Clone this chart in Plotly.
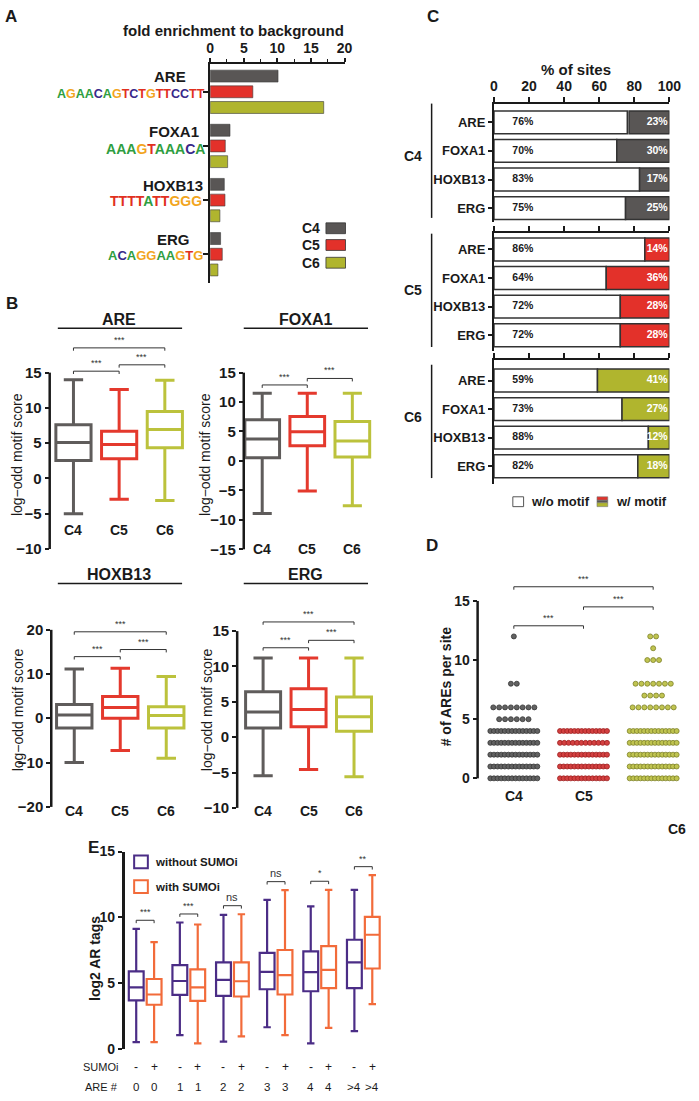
import plotly.graph_objects as go

W, H = 699, 1101
FONT = "Liberation Sans, Arial, Helvetica, sans-serif"
BLACK = "#1a1a1a"

# ---------------- data ----------------
motifs = ["ARE", "FOXA1", "HOXB13", "ERG"]
clusters = ["C4", "C5", "C6"]

# Panel A: fold enrichment to background
fold_C4 = [10.1, 2.95, 2.1, 1.55]
fold_C5 = [6.35, 2.25, 2.2, 1.8]
fold_C6 = [16.9, 2.6, 1.45, 1.15]
logos = ["AGAACAGTCTGTTCCTT", "AAAGTAAACA", "TTTTATTGGG", "ACAGGAAGTG"]

# Panel B: log-odd motif score box stats (C4, C5, C6)
are_lower = [-5.0, -2.94, -3.13]
are_q1 = [2.55, 2.8, 4.35]
are_median = [5.1, 4.81, 6.92]
are_q3 = [7.6, 6.68, 9.49]
are_upper = [14.0, 12.6, 13.9]

foxa1_lower = [-8.9, -5.1, -7.6]
foxa1_q1 = [0.56, 2.56, 0.67]
foxa1_median = [3.72, 4.94, 3.4]
foxa1_q3 = [7.0, 7.56, 6.7]
foxa1_upper = [11.5, 11.5, 11.5]

hoxb13_lower = [-10.0, -7.3, -9.0]
hoxb13_q1 = [-2.2, 0.0, -2.2]
hoxb13_median = [0.74, 2.4, 0.6]
hoxb13_q3 = [3.1, 4.9, 2.6]
hoxb13_upper = [11.1, 11.3, 9.4]

erg_lower = [-5.44, -4.56, -5.58]
erg_q1 = [1.3, 1.49, 0.84]
erg_median = [3.58, 3.9, 2.88]
erg_q3 = [6.42, 6.84, 5.67]
erg_upper = [11.2, 11.2, 11.2]

# Panel C: % of sites without / with motif
wo_C4 = [76, 70, 83, 75]
w_C4 = [23, 30, 17, 25]
wo_C5 = [86, 64, 72, 72]
w_C5 = [14, 36, 28, 28]
wo_C6 = [59, 73, 88, 82]
w_C6 = [41, 27, 12, 18]

# Panel D: number of AREs per site (value -> number of dots drawn)
d_C4_values = [0, 1, 2, 3, 4, 5, 6, 8, 12]
d_C4_counts = [14, 14, 14, 14, 14, 6, 8, 2, 1]
d_C5_values = [0, 1, 2, 3, 4]
d_C5_counts = [14, 14, 14, 12, 14]
d_C6_values = [0, 1, 2, 3, 4, 6, 7, 8, 10, 11, 12]
d_C6_counts = [14, 14, 14, 14, 14, 8, 4, 7, 3, 1, 2]

# Panel E: log2 AR tags by ARE number
are_number = ["0", "1", "2", "3", "4", ">4"]
e_without_lower = [0.5, 1.03, 0.53, 1.63, 0.4, 1.33]
e_without_q1 = [3.67, 4.1, 4.02, 4.52, 4.37, 4.6]
e_without_median = [4.67, 5.15, 5.23, 5.85, 5.83, 6.56]
e_without_q3 = [5.88, 6.35, 6.56, 7.29, 7.41, 8.29]
e_without_upper = [9.12, 9.6, 10.18, 11.33, 10.83, 12.09]
e_with_lower = [0.5, 0.4, 0.93, 1.03, 1.58, 3.39]
e_with_q1 = [3.34, 3.64, 3.97, 4.12, 4.6, 6.1]
e_with_median = [4.12, 4.67, 5.13, 5.6, 6.0, 8.67]
e_with_q3 = [5.3, 6.03, 6.56, 7.51, 7.81, 10.03]
e_with_upper = [8.1, 9.45, 10.23, 12.06, 12.09, 13.2]
e_sig = ["***", "***", "ns", "ns", "*", "**"]

# ---------------- styling ----------------
COL_A = ["#595655", "#e3312a", "#b0b52e"]
COL_B = ["#5f5c5b", "#e4392d", "#bcc23c"]
COL_D_FILL = ["#626262", "#d34040", "#c0c450"]
COL_D_EDGE = ["#363636", "#9e2020", "#7e822a"]
PURPLE = "#4b2d86"
ORANGE = "#f26b3a"
LOGO_COL = {"A": "#2f9e41", "C": "#38288a", "G": "#f2a51d", "T": "#e1301e"}

fig = go.Figure()
ann, shp = [], []
layout = dict(autosize=True, margin=dict(l=0, r=0, t=0, b=0, pad=0),
              paper_bgcolor="white", plot_bgcolor="rgba(0,0,0,0)", showlegend=False,
              barmode="overlay", boxmode="overlay",
              font=dict(family=FONT, color=BLACK))


def dx(a, b):
    return [a / W, b / W]


def dy(top, bottom):
    return [1 - bottom / H, 1 - top / H]


def ptext(x, y, text, size=14, bold=True, xanchor="center", yanchor="middle",
          color=BLACK, angle=0, family=FONT):
    ann.append(dict(xref="paper", yref="paper", x=x / W, y=1 - y / H,
                    text=("<b>%s</b>" % text) if bold else text, showarrow=False,
                    xanchor=xanchor, yanchor=yanchor, textangle=angle,
                    font=dict(size=size, color=color, family=family)))


def xtext(xa, x, y, text, size=14, bold=True):
    ann.append(dict(xref=xa, yref="paper", x=x, y=1 - y / H,
                    text=("<b>%s</b>" % text) if bold else text, showarrow=False,
                    yanchor="middle", font=dict(size=size, color=BLACK, family=FONT)))


def pline(x0, y0, x1, y1, w=2.0, color=BLACK):
    shp.append(dict(type="line", xref="paper", yref="paper", x0=x0 / W, y0=1 - y0 / H,
                    x1=x1 / W, y1=1 - y1 / H, line=dict(color=color, width=w)))


def prect(x0, y0, x1, y1, fill, line="#333", w=1.0):
    shp.append(dict(type="rect", xref="paper", yref="paper", x0=x0 / W, y0=1 - y1 / H,
                    x1=x1 / W, y1=1 - y0 / H, fillcolor=fill, line=dict(color=line, width=w)))


def bracket(xa, ya, x0, x1, y, drop, label, size=9):
    fig.add_trace(go.Scatter(x=[x0, x0, x1, x1], y=[y - drop, y, y, y - drop], mode="lines",
                             line=dict(color="#333", width=1), xaxis=xa, yaxis=ya,
                             hoverinfo="skip"))
    ann.append(dict(xref=xa, yref=ya, x=(x0 + x1) / 2, y=y, text=label, showarrow=False,
                    yanchor="bottom", yshift=1, font=dict(size=size, color="#333", family=FONT)))


def tickfont(size=14):
    return dict(size=size, family=FONT, color=BLACK, weight="bold")


# ================= Panel A =================
ptext(7, 9, "A", size=17)
ptext(235, 23, "fold enrichment to background", size=15)
offsets_A = [-0.40, -0.11, 0.18]
for k, vals in enumerate([fold_C4, fold_C5, fold_C6]):
    fig.add_trace(go.Bar(orientation="h", y=list(range(len(motifs))), x=vals,
                         offset=offsets_A[k], width=0.22,
                         marker=dict(color=COL_A[k], line=dict(color="#3a3a3a", width=0.6)),
                         xaxis="x", yaxis="y", hoverinfo="skip"))
layout["xaxis"] = dict(domain=dx(210.7, 348), range=[0, 20], anchor="y", side="top",
                       showline=True, linewidth=2, linecolor=BLACK, showgrid=False,
                       zeroline=False, ticks="outside", ticklen=4, tickwidth=1.5,
                       tickcolor=BLACK, tickvals=[0, 5, 10, 15, 20], tickfont=tickfont(14),
                       minor=dict(ticks="outside", ticklen=3, tickwidth=1, tickcolor=BLACK,
                                  tickvals=[2.5, 7.5, 12.5, 17.5]))
layout["yaxis"] = dict(domain=dy(57, 279), range=[3.53, -0.51], anchor="x", showline=True,
                       linewidth=2, linecolor=BLACK, showgrid=False, zeroline=False,
                       ticks="outside", ticklen=5, tickwidth=1.5, tickcolor=BLACK,
                       tickvals=list(range(len(motifs))), showticklabels=False)
name_pos = [(170, 70), (174, 125), (173, 180), (173, 235)]
logo_pos = [(130, 87, 12.5), (155, 143, 14), (155, 196, 14), (155, 251, 13)]
for i, m in enumerate(motifs):
    ptext(name_pos[i][0], name_pos[i][1], m, size=15)
    html = "".join('<span style="color:%s">%s</span>' % (LOGO_COL[c], c) for c in logos[i])
    lx, ly, ls = logo_pos[i]
    ptext(lx, ly, html, size=ls, bold=True)
for k, yc in enumerate([223.5, 240.5, 258.5]):
    ptext(314, yc, clusters[k], size=14)
    prect(329, yc - 5.5, 349, yc + 5.5, COL_A[k], line="#333", w=0.8)

# ================= Panel B =================
ptext(8, 300, "B", size=17)
B_panels = [
    ("ARE", (are_lower, are_q1, are_median, are_q3, are_upper), 2,
     dict(x=(46.7, 187.7), xr=[-0.52, 2.5], y=(327, 549), yr=[-10, 21],
          ticks=[-10, -5, 0, 5, 10, 15], axis=(370, 549), lab_y=530,
          title=(118, 316, 325, 55, 182), ytitle=(14, 453)),
     [(0, 1, 15.2), (1, 2, 16.1), (0, 2, 18.5)], 0.4),
    ("FOXA1", (foxa1_lower, foxa1_q1, foxa1_median, foxa1_q3, foxa1_upper), 3,
     dict(x=(245, 379), xr=[-0.41, 2.5], y=(355, 549.3), yr=[-15, 17.5],
          ticks=[-15, -10, -5, 0, 5, 10, 15], axis=(370, 549.3), lab_y=549,
          title=(308, 316, 325, 245, 372), ytitle=(206, 453)),
     [(0, 1, 12.9), (1, 2, 14.0)], 0.5),
    ("HOXB13", (hoxb13_lower, hoxb13_q1, hoxb13_median, hoxb13_q3, hoxb13_upper), 4,
     dict(x=(48.3, 189.3), xr=[-0.5, 2.5], y=(619.5, 810.7), yr=[-20, 22.5],
          ticks=[-20, -10, 0, 10, 20], axis=(631, 810.7), lab_y=815,
          title=(118, 575, 584, 55, 182), ytitle=(14, 712)),
     [(0, 1, 13.9), (1, 2, 15.5), (0, 2, 19.5)], 0.65),
    ("ERG", (erg_lower, erg_q1, erg_median, erg_q3, erg_upper), 5,
     dict(x=(238.3, 380), xr=[-0.57, 2.48], y=(610.8, 811.7), yr=[-10, 18],
          ticks=[-10, -5, 0, 5, 10, 15], axis=(632.3, 811.7), lab_y=815,
          title=(308, 575, 584, 245, 372), ytitle=(207, 712)),
     [(0, 1, 12.65), (1, 2, 13.7), (0, 2, 16.3)], 0.4),
]
for name, stats, n, g, brs, drop in B_panels:
    xa, ya = "x%d" % n, "y%d" % n
    lo, q1, med, q3, up = stats
    for k in range(3):
        fig.add_trace(go.Box(x=[k], lowerfence=[lo[k]], q1=[q1[k]], median=[med[k]],
                             q3=[q3[k]], upperfence=[up[k]], width=0.77, whiskerwidth=0.55,
                             line=dict(color=COL_B[k], width=3), fillcolor="white",
                             boxpoints=False, xaxis=xa, yaxis=ya, hoverinfo="skip"))
        xtext(xa, k, g["lab_y"], clusters[k], size=14)
    for (a, b, yv) in brs:
        bracket(xa, ya, a, b, yv, drop, "***")
    layout["xaxis%d" % n] = dict(domain=dx(*g["x"]), range=g["xr"], anchor=ya, visible=False)
    layout["yaxis%d" % n] = dict(domain=dy(*g["y"]), range=g["yr"], anchor=xa, showline=False,
                                 showgrid=False, zeroline=False, ticks="outside", ticklen=4,
                                 tickwidth=2, tickcolor=BLACK, tickvals=g["ticks"],
                                 tickfont=tickfont(15))
    pline(g["x"][0], g["axis"][0], g["x"][0], g["axis"][1], w=2.5)
    tx, ty, ly, l0, l1 = g["title"]
    ptext(tx, ty, name, size=16)
    pline(l0, ly, l1, ly, w=1.5)
    ptext(g["ytitle"][0], g["ytitle"][1], "log\u2212odd motif score", size=14, bold=False,
          angle=-90)

# ================= Panel C =================
ptext(438, 9, "C", size=17)
ptext(585, 62, "% of sites", size=15)
C_sets = [(wo_C4, w_C4, 6, (97, 217), [3.48, -0.655], (150, 97, 213)),
          (wo_C5, w_C5, 7, (228, 348), [3.55, -0.586], (286, 229, 344)),
          (wo_C6, w_C6, 8, (357, 483), [3.62, -0.724], (415, 362, 477))]
for k, (wo, w, n, ydom, yr, grp) in enumerate(C_sets):
    xa, ya = "x%d" % n, "y%d" % n
    ys = list(range(len(motifs)))
    fig.add_trace(go.Bar(orientation="h", y=ys, x=wo, width=0.8,
                         marker=dict(color="white", line=dict(color="#333", width=1.5)),
                         xaxis=xa, yaxis=ya, hoverinfo="skip"))
    fig.add_trace(go.Bar(orientation="h", y=ys, x=w, base=[100 - v for v in w], width=0.8,
                         marker=dict(color=COL_A[k], line=dict(color="#333", width=1.5)),
                         xaxis=xa, yaxis=ya, hoverinfo="skip"))
    fig.add_trace(go.Scatter(x=[10.5] * len(ys), y=ys, mode="text",
                             text=["<b>%d%%</b>" % v for v in wo], textposition="middle right",
                             textfont=dict(size=10.5, color=BLACK, family=FONT),
                             xaxis=xa, yaxis=ya, hoverinfo="skip", cliponaxis=False))
    fig.add_trace(go.Scatter(x=[99] * len(ys), y=ys, mode="text",
                             text=["<b>%d%%</b>" % v for v in w], textposition="middle left",
                             textfont=dict(size=10.5, color="white", family=FONT),
                             xaxis=xa, yaxis=ya, hoverinfo="skip", cliponaxis=False))
    layout["xaxis%d" % n] = dict(domain=dx(500.7, 680), range=[0, 100], anchor=ya, side="top",
                                 showline=True, linewidth=2, linecolor=BLACK, showgrid=False,
                                 zeroline=False, ticks="outside", ticklen=5, tickwidth=2,
                                 tickcolor=BLACK, tickvals=[0, 20, 40, 60, 80, 100],
                                 showticklabels=(k == 0), tickfont=tickfont(14))
    layout["yaxis%d" % n] = dict(domain=dy(*ydom), range=yr, anchor=xa, showline=True,
                                 linewidth=2, linecolor=BLACK, showgrid=False, zeroline=False,
                                 ticks="outside", ticklen=4, tickwidth=1.5, tickcolor=BLACK,
                                 tickvals=ys, ticktext=motifs, tickfont=tickfont(13))
    ptext(418, grp[0], clusters[k], size=14)
    pline(437, grp[1], 437, grp[2], w=1.5)
# legend C
prect(520, 496, 531, 506, "white", line="#555", w=1)
ptext(537, 501, "w/o motif", size=13, xanchor="left")
prect(606, 496, 617, 499.5, COL_A[1], line="#777", w=0.6)
prect(606, 499.5, 617, 502, COL_A[0], line="#777", w=0.6)
prect(606, 502, 617, 506, COL_A[2], line="#777", w=0.6)
ptext(623, 501, "w/ motif", size=13, xanchor="left")

# ================= Panel D =================
ptext(437, 545, "D", size=17)
D_PX = (699 - 484) / 3.02
for k, (vals, cnts) in enumerate([(d_C4_values, d_C4_counts), (d_C5_values, d_C5_counts),
                                  (d_C6_values, d_C6_counts)]):
    xs, ys = [], []
    for v, c in zip(vals, cnts):
        step = min(6.0, 48.0 / (c - 1)) if c > 1 else 0.0
        for j in range(c):
            xs.append(k + (j - (c - 1) / 2) * step / D_PX)
            ys.append(v)
    fig.add_trace(go.Scatter(x=xs, y=ys, mode="markers", cliponaxis=False,
                             marker=dict(size=5, color=COL_D_FILL[k],
                                         line=dict(color=COL_D_EDGE[k], width=0.8)),
                             xaxis="x9", yaxis="y9", hoverinfo="skip"))
for (a, b, yv) in [(0, 1, 12.9), (1, 2, 14.5), (0, 2, 16.2)]:
    bracket("x9", "y9", a, b, yv, 0.25, "***")
layout["xaxis9"] = dict(domain=dx(484, 699), range=[-0.52, 2.5], anchor="y9", visible=False)
layout["yaxis9"] = dict(domain=dy(571.7, 781.7), range=[0, 17.5], anchor="x9", showline=False,
                        showgrid=False, zeroline=False, ticks="outside", ticklen=4, tickwidth=2,
                        tickcolor=BLACK, tickvals=[0, 5, 10, 15], tickfont=tickfont(14))
pline(484, 601.7, 484, 781.7, w=2.5)
for k in range(2):
    xtext("x9", k, 800, clusters[k], size=14)
ptext(688, 833, clusters[2], size=14)
ptext(452, 688, "# of AREs per site", size=14, angle=-90)

# ================= Panel E =================
ptext(91, 852, "E", size=17)
E_OFF = 0.205
pos_without = [i - E_OFF for i in range(len(are_number))]
pos_with = [i + E_OFF for i in range(len(are_number))]
fig.add_trace(go.Box(x=pos_without, lowerfence=e_without_lower, q1=e_without_q1,
                     median=e_without_median, q3=e_without_q3, upperfence=e_without_upper,
                     width=0.34, whiskerwidth=0.5, line=dict(color=PURPLE, width=2.2),
                     fillcolor="white", boxpoints=False, xaxis="x10", yaxis="y10",
                     hoverinfo="skip"))
fig.add_trace(go.Box(x=pos_with, lowerfence=e_with_lower, q1=e_with_q1,
                     median=e_with_median, q3=e_with_q3, upperfence=e_with_upper,
                     width=0.34, whiskerwidth=0.5, line=dict(color=ORANGE, width=2.2),
                     fillcolor="white", boxpoints=False, xaxis="x10", yaxis="y10",
                     hoverinfo="skip"))
for i, s in enumerate(e_sig):
    top = max(e_without_upper[i], e_with_upper[i])
    bracket("x10", "y10", pos_without[i], pos_with[i], top + 0.65,
            0.22, s, size=9 if "*" in s else 11)
layout["xaxis10"] = dict(domain=dx(123.3, 389.5), range=[-0.47, 5.5], anchor="y10",
                         visible=False)
layout["yaxis10"] = dict(domain=dy(856, 1056), range=[0, 15], anchor="x10", showline=True,
                         linewidth=2.5, linecolor=BLACK, showgrid=False, zeroline=False,
                         ticks="outside", ticklen=4, tickwidth=2, tickcolor=BLACK,
                         tickvals=[0, 5, 10, 15], tickfont=tickfont(14))
prect(133, 860, 147, 873, "white", line=PURPLE, w=2)
ptext(152, 866.5, "without SUMOi", size=11.5, xanchor="left")
prect(133, 885, 147, 898, "white", line=ORANGE, w=2)
ptext(152, 891.5, "with SUMOi", size=11.5, xanchor="left")
ptext(93, 965, "log2 AR tags", size=14, angle=-90)
ptext(119, 1075, "SUMOi", size=11, bold=False, xanchor="right")
ptext(119, 1095, "ARE #", size=11, bold=False, xanchor="right")
for i, a in enumerate(are_number):
    for xpos, sign in [(pos_without[i], "-"), (pos_with[i], "+")]:
        xtext("x10", xpos, 1075, sign, size=12, bold=False)
        xtext("x10", xpos, 1095, a, size=11.5, bold=False)

layout["annotations"] = ann
layout["shapes"] = shp
fig.update_layout(**layout)
fig.write_html("out.html",
               default_width="%dpx; position:absolute; left:0px; top:0px" % W,
               default_height="%dpx" % H,
               config={"displayModeBar": False},
               post_script="document.body.style.margin='0px';")
